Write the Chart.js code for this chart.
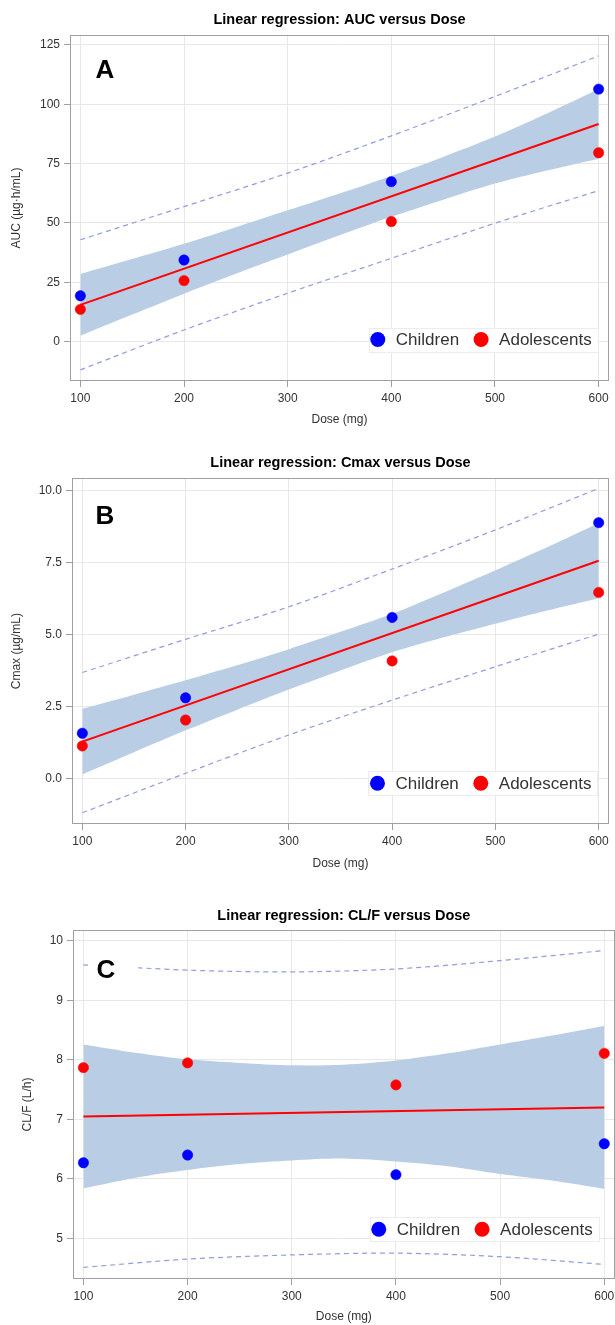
<!DOCTYPE html>
<html>
<head>
<meta charset="utf-8">
<script src="https://cdn.jsdelivr.net/npm/chart.js@4.4.1/dist/chart.umd.min.js"></script>
<style>
  html, body { margin: 0; padding: 0; overflow: hidden; background: #fff; }
  .panel { position: absolute; left: 0; }
</style>
</head>
<body>
<div class="panel" style="top:0"><canvas id="chartA" width="615" height="440"></canvas></div>
<div class="panel" style="top:440px"><canvas id="chartB" width="615" height="440"></canvas></div>
<div class="panel" style="top:880px"><canvas id="chartC" width="630" height="445"></canvas></div>
<script>
// doses
const doses = [100, 200, 400, 600];
const fitDoses = [100, 600];
const bandDoses = [100, 150, 200, 250, 300, 350, 400, 450, 500, 550, 600];
const predDoses = [100, 200, 300, 400, 500, 600];
const doseTicks = [100, 200, 300, 400, 500, 600];

// A - AUC
const aucChildren = [19.3, 34.4, 67.4, 106.4];
const aucAdolescents = [13.6, 25.7, 50.6, 79.6];
const aucFit = [15.5, 91.7];
const aucBandUpper = [28.5, 34.8, 41.2, 48.2, 55.3, 62.4, 69.8, 77.8, 86.4, 96.1, 106.3];
const aucBandLower = [2.5, 11.4, 20.2, 28.6, 36.7, 44.8, 52.6, 59.8, 66.6, 72.1, 77.1];
const aucPredUpper = [42.9, 56.9, 71.0, 86.7, 103.3, 120.4];
const aucPredLower = [-11.9, 4.9, 20.4, 35.1, 49.9, 63.6];
const aucTicks = [0, 25, 50, 75, 100, 125];

// B - Cmax
const cmaxChildren = [1.58, 2.81, 5.60, 8.89];
const cmaxAdolescents = [1.14, 2.04, 4.09, 6.47];
const cmaxFit = [1.29, 7.57];
const cmaxBandUpper = [2.43, 2.92, 3.42, 3.94, 4.50, 5.10, 5.73, 6.47, 7.24, 8.04, 8.87];
const cmaxBandLower = [0.15, 0.92, 1.68, 2.40, 3.10, 3.76, 4.39, 4.91, 5.38, 5.84, 6.27];
const cmaxPredUpper = [3.69, 4.84, 5.97, 7.28, 8.64, 10.08];
const cmaxPredLower = [-1.18, 0.19, 1.52, 2.73, 3.89, 5.02];
const cmaxTicks = [0, 2.5, 5, 7.5, 10];

// C - CL/F
const clChildren = [6.27, 6.40, 6.07, 6.59];
const clAdolescents = [7.87, 7.95, 7.58, 8.11];
const clFit = [7.05, 7.20];
const clBandUpper = [8.26, 8.12, 8.01, 7.95, 7.91, 7.92, 7.99, 8.11, 8.26, 8.41, 8.57];
const clBandLower = [5.84, 6.02, 6.15, 6.25, 6.31, 6.34, 6.29, 6.21, 6.08, 5.97, 5.83];
const clPredUpper = [9.60, 9.51, 9.48, 9.53, 9.67, 9.84];
const clPredLower = [4.51, 4.65, 4.72, 4.75, 4.69, 4.56];
const clTicks = [5, 6, 7, 8, 9, 10];

const FONT = '"Liberation Sans", Arial, sans-serif';
const pts = (xs, ys) => xs.map((x, i) => ({x: x, y: ys[i]}));

function panelChart(id, p) {
  // frame, panel letter and the legend box inside the plot
  const extras = {
    id: 'extras',
    afterDatasetsDraw(chart) {
      const {ctx, chartArea: a} = chart;
      ctx.save();
      ctx.strokeStyle = '#a0a0a0';
      ctx.lineWidth = 1;
      ctx.strokeRect(Math.round(a.left) + 0.5, Math.round(a.top) + 0.5,
        Math.round(a.right - a.left) - 1, Math.round(a.bottom - a.top) - 1);
      ctx.restore();
    },
    afterDraw(chart) {
      const {ctx, chartArea: a} = chart;
      ctx.save();
      const lx = a.left + p.letterDx, ly = a.top + p.letterDy;
      ctx.fillStyle = '#fff';
      ctx.fillRect(lx - 18, ly - 14, 50, 28);
      ctx.fillStyle = '#000';
      ctx.font = 'bold 26px ' + FONT;
      ctx.textAlign = 'center';
      ctx.textBaseline = 'middle';
      ctx.fillText(p.letter, lx, ly + 1);

      const items = chart.data.datasets.slice(0, 2);
      ctx.font = '17px ' + FONT;
      const widths = items.map(d => ctx.measureText(d.label).width);
      const boxW = 9 + 18 + widths[0] + 22 + 18 + widths[1] + 6;
      const right = a.right - p.legendRight, cy = a.bottom - p.legendUp;
      const left = right - boxW;
      ctx.fillStyle = '#fff';
      ctx.fillRect(left, cy - 12, boxW, 24);
      ctx.strokeStyle = '#ececec';
      ctx.strokeRect(Math.round(left) + 0.5, Math.round(cy - 12) + 0.5, Math.round(boxW), 24);
      let x = left + 9;
      ctx.textAlign = 'left';
      items.forEach((d, i) => {
        ctx.fillStyle = d.pointBackgroundColor;
        ctx.beginPath();
        ctx.arc(x, cy, 7.5, 0, Math.PI * 2);
        ctx.fill();
        ctx.fillStyle = '#333';
        ctx.fillText(d.label, x + 18, cy + 1);
        x += 18 + widths[i] + 22;
      });
      ctx.restore();
    }
  };

  const tickFont = {family: FONT, size: 12};
  return new Chart(document.getElementById(id), {
    type: 'line',
    data: {
      datasets: [
        {label: 'Children', data: pts(doses, p.children), showLine: false,
         pointRadius: 5.2, pointBackgroundColor: '#0000ff', pointBorderColor: '#0000ff',
         pointBorderWidth: 0.5, order: 0},
        {label: 'Adolescents', data: pts(doses, p.adolescents), showLine: false,
         pointRadius: 5.2, pointBackgroundColor: '#ff0000', pointBorderColor: '#ff0000',
         pointBorderWidth: 0.5, order: 0},
        {label: 'Fit', data: pts(fitDoses, p.fit), borderColor: '#ff0000', borderWidth: 2,
         pointRadius: 0, order: 1},
        {label: 'Prediction upper', data: pts(predDoses, p.predUpper), borderColor: '#909de0',
         borderWidth: 1.2, borderDash: [5, 4], pointRadius: 0, tension: 0.3, order: 2},
        {label: 'Prediction lower', data: pts(predDoses, p.predLower), borderColor: '#909de0',
         borderWidth: 1.2, borderDash: [5, 4], pointRadius: 0, tension: 0.3, order: 2},
        {label: 'CI upper', data: pts(bandDoses, p.bandUpper), borderColor: 'transparent',
         backgroundColor: '#b9cde5', fill: '+1', pointRadius: 0, tension: 0.3, order: 3},
        {label: 'CI lower', data: pts(bandDoses, p.bandLower), borderColor: 'transparent',
         fill: false, pointRadius: 0, tension: 0.3, order: 3}
      ]
    },
    options: {
      responsive: false,
      animation: false,
      events: [],
      layout: {padding: {left: 0, right: p.padRight, top: 0, bottom: 0}},
      plugins: {
        legend: {display: false},
        tooltip: {enabled: false},
        title: {
          display: true, text: p.title, fullSize: false, color: '#000',
          font: {family: FONT, size: 14.5, weight: 'bold'},
          padding: {top: p.titleTop, bottom: p.titleBottom}
        }
      },
      scales: {
        x: {
          type: 'linear', min: 90, max: 610,
          afterFit: s => { s.height = p.xHeight; },
          afterBuildTicks: s => { s.ticks = doseTicks.map(v => ({value: v})); },
          grid: {color: '#e8e8e8', tickColor: '#a0a0a0', tickLength: 6},
          border: {display: false},
          ticks: {color: '#333', font: tickFont, padding: 4, maxRotation: 0},
          title: {display: true, text: 'Dose (mg)', color: '#333', font: tickFont,
                  padding: {top: 0, bottom: p.xTitlePad}}
        },
        y: {
          type: 'linear', min: p.yMin, max: p.yMax,
          afterFit: s => { s.width = p.yWidth; },
          afterBuildTicks: s => { s.ticks = p.yTicks.map(v => ({value: v})); },
          grid: {color: '#e8e8e8', tickColor: '#a0a0a0', tickLength: 6},
          border: {display: false},
          ticks: {color: '#333', font: tickFont, padding: 4, callback: p.yFmt},
          title: {display: true, text: p.yTitle, color: '#333', font: tickFont,
                  padding: {top: p.yTitlePad, bottom: 0}}
        }
      }
    },
    plugins: [extras]
  });
}

panelChart('chartA', {
  title: 'Linear regression: AUC versus Dose', letter: 'A', yTitle: 'AUC (µg·h/mL)',
  children: aucChildren, adolescents: aucAdolescents, fit: aucFit,
  bandUpper: aucBandUpper, bandLower: aucBandLower,
  predUpper: aucPredUpper, predLower: aucPredLower,
  yTicks: aucTicks, yMin: -16.6, yMax: 129.2, yFmt: v => String(v),
  padRight: 6, yWidth: 70, xHeight: 59, titleTop: 11.3, titleBottom: 6.3,
  yTitlePad: 9.8, xTitlePad: 12.8, letterDx: 35, letterDy: 35,
  legendRight: 11.3, legendUp: 41.5
});

panelChart('chartB', {
  title: 'Linear regression: Cmax versus Dose', letter: 'B', yTitle: 'Cmax (µg/mL)',
  children: cmaxChildren, adolescents: cmaxAdolescents, fit: cmaxFit,
  bandUpper: cmaxBandUpper, bandLower: cmaxBandLower,
  predUpper: cmaxPredUpper, predLower: cmaxPredLower,
  yTicks: cmaxTicks, yMin: -1.57, yMax: 10.43, yFmt: v => v.toFixed(1),
  padRight: 6, yWidth: 72, xHeight: 56, titleTop: 14.6, titleBottom: 6.3,
  yTitlePad: 9.3, xTitlePad: 9.5, letterDx: 33, letterDy: 38,
  legendRight: 11.6, legendUp: 40.7
});

panelChart('chartC', {
  title: 'Linear regression: CL/F versus Dose', letter: 'C', yTitle: 'CL/F (L/h)',
  children: clChildren, adolescents: clAdolescents, fit: clFit,
  bandUpper: clBandUpper, bandLower: clBandLower,
  predUpper: clPredUpper, predLower: clPredLower,
  yTicks: clTicks, yMin: 4.315, yMax: 10.185, yFmt: v => String(v),
  padRight: 15.3, yWidth: 73, xHeight: 46, titleTop: 27.3, titleBottom: 5.3,
  yTitlePad: 20.4, xTitlePad: 1.1, letterDx: 33, letterDy: 40,
  legendRight: 16, legendUp: 49.7
});
</script>
</body>
</html>
